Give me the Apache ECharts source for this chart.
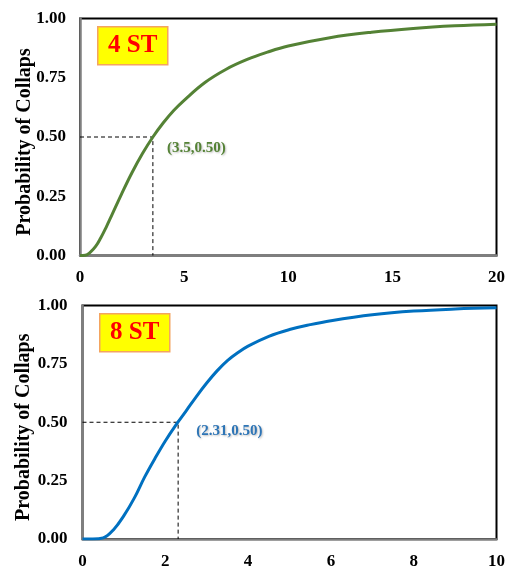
<!DOCTYPE html>
<html>
<head>
<meta charset="utf-8">
<script src="https://cdn.jsdelivr.net/npm/echarts@6/dist/echarts.min.js"></script>
<style>
  html, body { margin: 0; padding: 0; background: #fff; }
  #chart { width: 508px; height: 570px; }
</style>
</head>
<body>
<div id="chart"></div>
<script>
// 4-storey fragility curve: intensity vs. probability of collapse
const st4X = [0, 0.25, 0.5, 0.75, 1, 1.25, 1.5, 2, 2.5, 3, 3.5, 4, 4.5, 5, 6, 7, 8, 9, 10, 12, 14, 16, 18, 20];
const st4P = [0, 0.001, 0.014, 0.038, 0.075, 0.118, 0.165, 0.26, 0.35, 0.43, 0.50, 0.56, 0.612, 0.655, 0.73, 0.785, 0.826, 0.858, 0.884, 0.919, 0.942, 0.958, 0.969, 0.976];
const st4Median = [3.5, 0.50];

// 8-storey fragility curve
const st8X = [0, 0.25, 0.5, 0.75, 1, 1.25, 1.5, 1.75, 2, 2.25, 2.5, 2.75, 3, 3.25, 3.5, 3.75, 4, 4.5, 5, 5.5, 6, 7, 8, 9, 10];
const st8P = [0, 0, 0.005, 0.04, 0.10, 0.175, 0.265, 0.345, 0.42, 0.487, 0.548, 0.61, 0.668, 0.72, 0.764, 0.798, 0.826, 0.868, 0.897, 0.918, 0.935, 0.96, 0.976, 0.985, 0.99];
const st8Median = [2.31, 0.50];

const panelTitles = ['4 ST', '8 ST'];
const yTicks = [0, 0.25, 0.5, 0.75, 1];
const yName = 'Probability of Collaps';

const pairs = (xs, ys) => xs.map((x, i) => [x, ys[i]]);
const guide = m => [[0, m[1]], [m[0], m[1]], [m[0], 0]];
const medianText = (m, digits) => '(' + m[0].toFixed(digits) + ',' + m[1].toFixed(2) + ')';

const serif = '"Liberation Serif", "Times New Roman", serif';
const tickFont = { fontFamily: serif, fontWeight: 'bold', fontSize: 17, color: '#000' };

function xAxisFor(idx, max, step) {
  return {
    gridIndex: idx, type: 'value', min: 0, max: max, interval: step,
    axisLine: { show: true, onZero: false, lineStyle: { color: '#7f7f7f', width: 2.5 } },
    axisTick: { show: false },
    splitLine: { show: false },
    axisLabel: Object.assign({ margin: 14 }, tickFont)
  };
}
function yAxisFor(idx, margin, gap) {
  return {
    gridIndex: idx, type: 'value', min: yTicks[0], max: yTicks[yTicks.length - 1], interval: 0.25,
    axisLine: { show: true, onZero: false, lineStyle: { color: '#7f7f7f', width: 2.5 } },
    axisTick: { show: false },
    splitLine: { show: false },
    axisLabel: Object.assign({ margin: margin, formatter: v => v.toFixed(2) }, tickFont),
    name: yName, nameLocation: 'middle', nameGap: gap, nameRotate: 90, nameMoveOverlap: false,
    nameTextStyle: { fontFamily: serif, fontWeight: 'bold', fontSize: 20, color: '#000', padding: [0, 10, 0, 0] }
  };
}
function curve(idx, data, color) {
  return {
    type: 'line', xAxisIndex: idx, yAxisIndex: idx, data: data,
    smooth: 0.4, showSymbol: false, symbol: 'none',
    lineStyle: { color: color, width: 3 }, z: 3, silent: true
  };
}
function guideLines(idx, m, color, digits, offset) {
  return {
    type: 'line', xAxisIndex: idx, yAxisIndex: idx, data: guide(m),
    showSymbol: false, symbol: 'none', silent: true, z: 2,
    lineStyle: { color: '#000', width: 1, type: [4, 3] },
    markPoint: {
      symbol: 'circle', symbolSize: 0, silent: true,
      data: [{ coord: m }],
      label: {
        show: true, position: 'inside', offset: offset, align: 'left',
        formatter: () => medianText(m, digits),
        fontFamily: serif, fontWeight: 'bold', fontSize: 15, color: color,
        textShadowColor: 'rgba(0,0,0,0.25)', textShadowBlur: 2, textShadowOffsetX: 1, textShadowOffsetY: 1
      }
    }
  };
}
function tag(x, y, text) {
  return {
    type: 'group', left: x, top: y,
    children: [
      { type: 'rect', shape: { x: 0, y: 0, width: 70, height: 38 },
        style: { fill: '#ffff00', stroke: '#f4a460', lineWidth: 1.5 } },
      { type: 'text', x: 35, y: 19,
        style: { text: text, fill: '#ff0000', font: 'bold 25px ' + serif, align: 'center', verticalAlign: 'middle' } }
    ]
  };
}

const chart = echarts.init(document.getElementById('chart'), null, { renderer: 'canvas' });
chart.setOption({
  animation: false,
  backgroundColor: '#fff',
  grid: [
    { left: 80, top: 18.5, width: 417, height: 237, show: true, borderColor: '#000', borderWidth: 2, backgroundColor: 'transparent' },
    { left: 82.5, top: 305.5, width: 416.5, height: 236, show: true, borderColor: '#000', borderWidth: 2, backgroundColor: 'transparent' }
  ],
  xAxis: [xAxisFor(0, 20, 5), xAxisFor(1, 10, 2)],
  yAxis: [yAxisFor(0, 14, 45), yAxisFor(1, 15, 49)],
  series: [
    guideLines(0, st4Median, '#548235', 1, [14, 11]),
    curve(0, pairs(st4X, st4P), '#548235'),
    guideLines(1, st8Median, '#2e75b6', 2, [18, 9]),
    curve(1, pairs(st8X, st8P), '#0070c0')
  ],
  graphic: [tag(97, 26, panelTitles[0]), tag(99, 313, panelTitles[1])]
});
</script>
</body>
</html>
